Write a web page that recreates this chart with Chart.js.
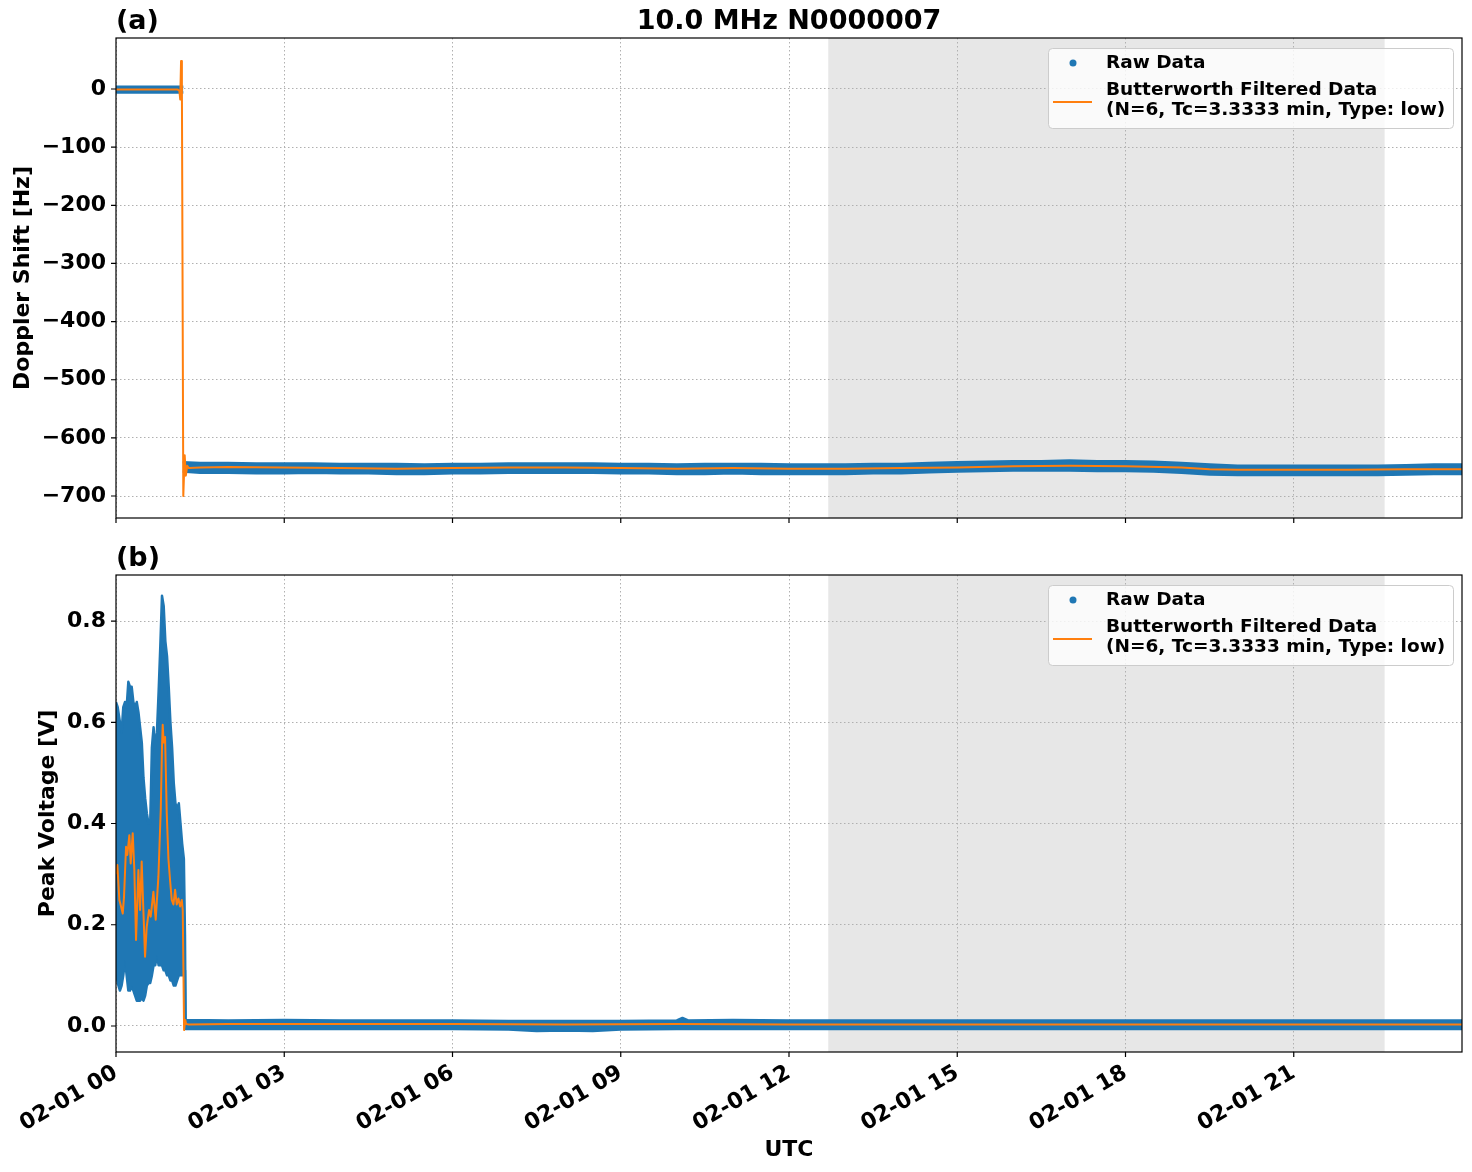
<!DOCTYPE html>
<html>
<head>
<meta charset="utf-8">
<script src="https://cdn.jsdelivr.net/npm/chart.js@4.4.1/dist/chart.umd.min.js"></script>
<style>
  html, body { margin: 0; padding: 0; background: #fff; }
  #wrap { position: relative; width: 1472px; height: 1172px; }
  #wrap canvas { position: absolute; left: 0; }
</style>
</head>
<body>
<div id="wrap">
  <canvas id="chartTop" width="1472" height="530" style="top:0"></canvas>
  <canvas id="chartBottom" width="1472" height="642" style="top:530px"></canvas>
</div>
<script>
// hours after 02-01 00:00 UTC
const xTickHours = [0, 3, 6, 9, 12, 15, 18, 21];
const dopplerTicks = [0, -100, -200, -300, -400, -500, -600, -700];
const voltTicks = [0.0, 0.2, 0.4, 0.6, 0.8];
const shadeHours = [12.7, 22.62];

const titleText = '10.0 MHz N0000007';
const legendRaw = 'Raw Data';
const legendFilt = ['Butterworth Filtered Data', '(N=6, Tc=3.3333 min, Type: low)'];

// (a) raw doppler shift, spread of the dots before the jump
const rawDopPreTimes = [0, 1.2];
const rawDopPreHi = [4, 4];
const rawDopPreLo = [-6, -6];

// (a) raw doppler shift, spread of the dots after the jump
const rawDopTimes = [1.19, 1.5, 2, 2.5, 3, 3.5, 4, 4.5, 5, 5.5, 6, 6.5, 7, 7.5, 8, 8.5, 9, 9.5, 10, 10.5, 11, 11.5, 12, 12.5,
  13, 13.5, 14, 14.5, 15, 15.5, 16, 16.5, 17, 17.5, 18, 18.5, 19, 19.5, 20, 20.5, 21, 21.5, 22, 22.5, 23, 23.5, 24];
const rawDopHi = [-642, -643, -643, -644, -644, -644, -645, -645, -645, -646, -645, -645, -644, -644, -644, -644, -645, -645,
  -646, -645, -645, -645, -646, -646, -646, -645, -645, -643, -642, -641, -640, -640, -639, -640, -640, -641, -643, -646,
  -648, -648, -648, -648, -648, -648, -647, -646, -646];
const rawDopLo = [-658, -660, -660, -661, -661, -660, -661, -661, -662, -662, -661, -661, -660, -660, -660, -660, -661, -661,
  -662, -662, -661, -662, -662, -662, -662, -661, -661, -659, -658, -657, -656, -656, -656, -657, -657, -658, -660, -663,
  -664, -664, -664, -664, -664, -664, -663, -662, -662];

// (a) butterworth filtered doppler shift
const filtDopTimes = [0, 0.5, 1.0, 1.1, 1.13, 1.145, 1.16, 1.175, 1.2, 1.225, 1.245, 1.27, 1.3, 1.5, 2, 3, 4, 5, 6, 7, 8, 9,
  10, 11, 12, 13, 14, 15, 16, 17, 18, 19, 19.5, 20, 21, 22, 23, 24];
const filtDop = [-1, -1, -1, -1, -3, -18, 48, 5, -700, -630, -665, -648, -652, -651, -650, -651, -652, -653, -652, -651, -651,
  -652, -653, -652, -653, -653, -652, -651, -649, -648, -649, -651, -654, -655, -655, -655, -654, -654];

// (b) raw peak voltage, spread of the dots
const rawVoltTimes = [0, 0.03, 0.07, 0.1, 0.13, 0.16, 0.19, 0.22, 0.25, 0.28, 0.31, 0.34, 0.37, 0.4, 0.43, 0.46, 0.49, 0.52,
  0.55, 0.58, 0.61, 0.64, 0.67, 0.7, 0.73, 0.76, 0.79, 0.82, 0.85, 0.88, 0.91, 0.94, 0.97, 1.0, 1.03, 1.06, 1.09, 1.12, 1.15,
  1.18, 1.21, 1.23, 1.24, 2, 3, 4, 5, 6, 7, 7.5, 8, 8.5, 9, 10, 10.1, 10.2, 11, 12, 14, 16, 18, 20, 22, 24];
const rawVoltHi = [0.64, 0.63, 0.60, 0.58, 0.63, 0.64, 0.63, 0.68, 0.67, 0.67, 0.64, 0.63, 0.64, 0.62, 0.59, 0.56, 0.49, 0.45,
  0.42, 0.40, 0.40, 0.55, 0.59, 0.55, 0.58, 0.66, 0.75, 0.85, 0.83, 0.76, 0.73, 0.67, 0.60, 0.55, 0.48, 0.44, 0.43, 0.44, 0.40,
  0.36, 0.33, 0.18, 0.012, 0.011, 0.012, 0.011, 0.011, 0.011, 0.010, 0.010, 0.010, 0.010, 0.010, 0.011, 0.016, 0.011, 0.012,
  0.011, 0.011, 0.011, 0.011, 0.011, 0.011, 0.011];
const rawVoltLo = [0.11, 0.085, 0.07, 0.08, 0.10, 0.13, 0.10, 0.07, 0.07, 0.08, 0.07, 0.06, 0.05, 0.05, 0.05, 0.055, 0.05, 0.06,
  0.08, 0.085, 0.085, 0.10, 0.12, 0.12, 0.14, 0.12, 0.12, 0.12, 0.11, 0.11, 0.10, 0.10, 0.09, 0.09, 0.08, 0.08, 0.09, 0.10,
  0.10, 0.10, 0.11, 0.11, -0.006, -0.006, -0.006, -0.006, -0.006, -0.006, -0.007, -0.010, -0.009, -0.010, -0.007, -0.006,
  -0.006, -0.006, -0.006, -0.006, -0.006, -0.006, -0.006, -0.006, -0.006, -0.006];

// (b) butterworth filtered peak voltage
const filtVoltTimes = [0, 0.024, 0.06, 0.09, 0.12, 0.143, 0.179, 0.202, 0.238, 0.262, 0.298, 0.327, 0.357, 0.399, 0.429, 0.458,
  0.488, 0.518, 0.548, 0.589, 0.619, 0.667, 0.708, 0.756, 0.798, 0.82, 0.833, 0.85, 0.875, 0.905, 0.935, 0.964, 0.994, 1.024,
  1.054, 1.083, 1.113, 1.143, 1.173, 1.19, 1.214, 1.235, 1.25, 1.3, 2, 4, 6, 8, 10, 12, 14, 16, 18, 20, 22, 24];
const filtVolt = [0.30, 0.318, 0.249, 0.236, 0.222, 0.255, 0.354, 0.338, 0.377, 0.321, 0.381, 0.308, 0.17, 0.308, 0.229, 0.325,
  0.229, 0.137, 0.196, 0.229, 0.216, 0.265, 0.21, 0.295, 0.427, 0.55, 0.595, 0.56, 0.571, 0.42, 0.33, 0.288, 0.249, 0.24,
  0.269, 0.24, 0.252, 0.236, 0.249, 0.229, -0.008, 0.012, 0.004, 0.003, 0.004, 0.004, 0.004, 0.003, 0.004, 0.003, 0.003,
  0.003, 0.003, 0.003, 0.003, 0.003];

const blue = '#1f77b4';
const orange = '#ff7f0e';
const fontName = "'DejaVu Sans'";

const pts = (xs, ys) => xs.map((x, i) => ({x: x, y: ys[i]}));

const filtSet = (xs, ys) => ({
    data: pts(xs, ys), borderColor: orange, borderWidth: 2, pointRadius: 0,
    borderJoinStyle: 'round', fill: false, tension: 0
});

const bandSets = (xs, hi, lo) => [
    {data: pts(xs, hi), borderColor: blue, backgroundColor: blue, borderWidth: 2.5, pointRadius: 0,
     borderJoinStyle: 'round', fill: '+1', tension: 0},
    {data: pts(xs, lo), borderColor: blue, borderWidth: 2.5, pointRadius: 0,
     borderJoinStyle: 'round', fill: false, tension: 0}
];

// shaded span, frame, tick marks, panel letters and the legend box
const mplDecor = {
    id: 'mplDecor',
    beforeDraw(chart) {
        const {ctx, chartArea: a, scales: {x}} = chart;
        const x0 = x.getPixelForValue(shadeHours[0]);
        const x1 = x.getPixelForValue(shadeHours[1]);
        ctx.save();
        ctx.fillStyle = '#e7e7e7';
        ctx.fillRect(x0, a.top, x1 - x0, a.bottom - a.top);
        ctx.restore();
    },
    afterDatasetsDraw(chart, args, opts) {
        const {ctx, chartArea: a, scales: {x, y}} = chart;
        ctx.save();
        ctx.strokeStyle = '#000';
        ctx.lineWidth = 1.2;
        ctx.strokeRect(a.left, a.top, a.right - a.left, a.bottom - a.top);

        ctx.beginPath();
        x.ticks.forEach(t => {
            const px = x.getPixelForValue(t.value);
            ctx.moveTo(px, a.bottom);
            ctx.lineTo(px, a.bottom + 5);
        });
        y.ticks.forEach(t => {
            const py = y.getPixelForValue(t.value);
            ctx.moveTo(a.left, py);
            ctx.lineTo(a.left - 5, py);
        });
        ctx.stroke();

        ctx.fillStyle = '#000';
        ctx.font = `bold 27px ${fontName}`;
        ctx.textBaseline = 'alphabetic';
        ctx.textAlign = 'left';
        ctx.fillText(opts.panel, a.left, a.top - 9);
        if (opts.title) {
            ctx.textAlign = 'center';
            ctx.fillText(opts.title, (a.left + a.right) / 2, a.top - 9);
        }

        // legend
        ctx.font = `bold 18.5px ${fontName}`;
        const lw = 405, lh = 80;
        const lx = a.right - 9 - lw, ly = a.top + 10;
        ctx.fillStyle = 'rgba(255,255,255,0.8)';
        ctx.strokeStyle = '#cccccc';
        ctx.lineWidth = 1;
        ctx.beginPath();
        ctx.roundRect(lx + 0.5, ly + 0.5, lw, lh, 4);
        ctx.fill();
        ctx.stroke();

        ctx.fillStyle = blue;
        ctx.beginPath();
        ctx.arc(lx + 25, ly + 15, 3.5, 0, 2 * Math.PI);
        ctx.fill();
        ctx.strokeStyle = orange;
        ctx.lineWidth = 2;
        ctx.beginPath();
        ctx.moveTo(lx + 5, ly + 54);
        ctx.lineTo(lx + 44, ly + 54);
        ctx.stroke();

        ctx.fillStyle = '#000';
        ctx.textAlign = 'left';
        ctx.textBaseline = 'middle';
        ctx.fillText(legendRaw, lx + 58, ly + 15);
        ctx.fillText(legendFilt[0], lx + 58, ly + 42);
        ctx.fillText(legendFilt[1], lx + 58, ly + 62);
        ctx.restore();
    }
};

const tickFont = {family: fontName, size: 22, weight: 'bold'};
const gridOpts = {color: '#b0b0b0', lineWidth: 1, drawTicks: false};
const borderOpts = {display: false, dash: [1.5, 2.5]};

const xScale = (showLabels, height) => ({
    type: 'linear', min: 0, max: 24,
    grid: gridOpts, border: borderOpts,
    afterBuildTicks: s => { s.ticks = xTickHours.map(v => ({value: v})); },
    afterFit: s => { s.height = height; s.paddingLeft = 0; s.paddingRight = 0; },
    ticks: {
        display: showLabels, autoSkip: false, minRotation: 30, maxRotation: 30, padding: 8,
        color: '#000', font: tickFont,
        callback: v => '02-01 ' + String(v).padStart(2, '0')
    },
    title: {display: showLabels, text: 'UTC', color: '#000', font: tickFont, padding: {top: 0, bottom: 9}}
});

const yScale = (min, max, tickList, fmt, label, titlePad) => ({
    type: 'linear', min: min, max: max,
    grid: gridOpts, border: borderOpts,
    afterBuildTicks: s => { s.ticks = tickList.map(v => ({value: v})); },
    afterFit: s => { s.width = 116; s.paddingTop = 0; s.paddingBottom = 0; },
    ticks: {color: '#000', font: tickFont, padding: 10, callback: fmt},
    title: {display: true, text: label, color: '#000', font: tickFont, padding: {top: titlePad, bottom: 0}}
});

const baseOpts = {
    responsive: false, maintainAspectRatio: false, animation: false, events: [],
    plugins: {legend: {display: false}, tooltip: {enabled: false}}
};

new Chart(document.getElementById('chartTop'), {
    type: 'line',
    data: {
        datasets: [
            filtSet(filtDopTimes, filtDop),
            ...bandSets(rawDopPreTimes, rawDopPreHi, rawDopPreLo),
            ...bandSets(rawDopTimes, rawDopHi, rawDopLo)
        ]
    },
    options: {
        ...baseOpts,
        layout: {padding: {top: 38, right: 10, left: 0, bottom: 0}},
        plugins: {...baseOpts.plugins, mplDecor: {panel: '(a)', title: titleText}},
        scales: {
            x: xScale(false, 12),
            y: yScale(-737.8, 87.7, dopplerTicks, v => v < 0 ? '\u2212' + Math.abs(v) : String(v), 'Doppler Shift [Hz]', 10)
        }
    },
    plugins: [mplDecor]
});

new Chart(document.getElementById('chartBottom'), {
    type: 'line',
    data: {
        datasets: [
            filtSet(filtVoltTimes, filtVolt),
            ...bandSets(rawVoltTimes, rawVoltHi, rawVoltLo)
        ]
    },
    options: {
        ...baseOpts,
        layout: {padding: {top: 45, right: 10, left: 0, bottom: 0}},
        plugins: {...baseOpts.plugins, mplDecor: {panel: '(b)'}},
        scales: {
            x: xScale(true, 120),
            y: yScale(-0.0514, 0.891, voltTicks, v => v.toFixed(1), 'Peak Voltage [V]', 35)
        }
    },
    plugins: [mplDecor]
});
</script>
</body>
</html>
